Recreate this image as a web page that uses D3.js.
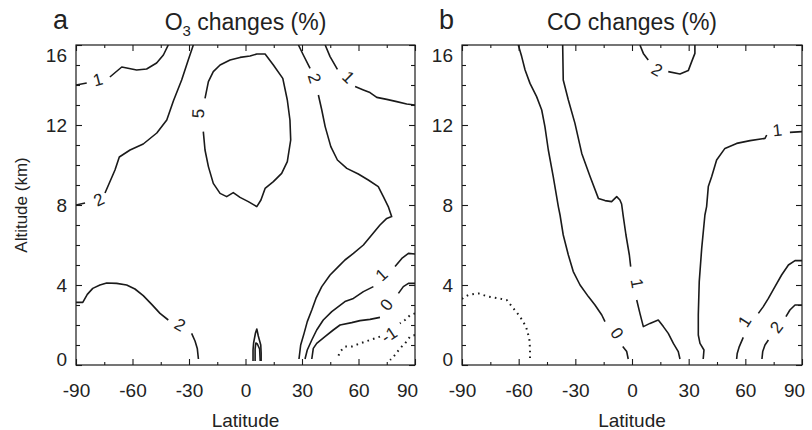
<!DOCTYPE html>
<html><head><meta charset="utf-8">
<script src="https://cdn.jsdelivr.net/npm/d3@7"></script>
<style>body{margin:0;background:#fff}svg{display:block}</style>
</head><body>
<script>
// ---- axes ----
const latTicks = [-90,-60,-30,0,30,60,90];
const latMinor = [-75,-45,-15,15,45,75];
const altTicks = [0,4,8,12,16];
const altMinor = [1,2,3,5,6,7,9,10,11,13,14,15];

// ---- panel a: O3 contours [lat, alt] (third entry = contour label at a gap) ----
const o3_1_nw = [[-90,14.0],[-84.3,14.1],[-78.3,14.25,"1"],[-72,14.4],[-65.7,14.9],[-57.8,14.75],[-52.5,14.8],[-47.2,15.1],[-43.6,15.5],[-41,16]];
const o3_2_nw = [[-90,8.0],[-85.2,8.1],[-77.8,8.25,"2"],[-74.6,8.6],[-69.3,9.75],[-67.0,10.4],[-61.3,10.75],[-54.3,11.05],[-47.1,11.6],[-41.8,12.25],[-38.3,13.2],[-33.9,14.25],[-30.4,15.25],[-27.7,16]];
const o3_5 = [[-21.5,13.33],[-19.7,14.17],[-17.1,14.67],[-13.5,15.0],[-8.2,15.25],[-2.9,15.38],[2.4,15.45],[6.0,15.55],[10.4,15.55],[14.8,15.0],[19.8,14.33],[22.2,13.25],[23.6,12.25],[24.0,11.25],[22.2,10.17],[19.2,9.58],[14.8,9.17],[10.4,8.83],[8.2,8.25],[6.0,7.92],[1.5,8.17],[-2.9,8.38],[-6.5,8.62],[-10,8.42],[-13.5,8.58],[-17.1,9.08],[-19.7,9.92],[-21.5,10.75],[-22.4,11.67],[-25.0,12.58,"5"],[-21.5,13.33]];
const o3_2_ne = [[28.1,16],[30.7,15.5],[34.3,14.83],[36.4,14.33,"2"],[38.7,13.5],[40.5,12.75],[42.3,11.92],[45.3,10.92],[48.8,10.25],[53.8,9.83],[59.9,9.55],[65.2,9.25],[70.5,8.92],[73.2,8.42],[75.8,7.92],[77.6,7.42],[75.0,7.33],[71.4,7.0],[67.0,6.5],[62.6,6.0],[57.3,5.58],[52.8,5.25],[49.3,4.92],[44.9,4.5],[40.5,3.92],[37.4,3.33],[35.2,2.75],[32.8,2.17],[31.1,1.58],[29.3,1.0],[28.4,0.3]];
const o3_1_ne = [[42.3,16],[44.9,15.42],[48.8,14.78],[54.6,14.38,"1"],[58.2,13.92],[62.6,13.75],[66.1,13.62],[69.7,13.38],[75,13.28],[80.3,13.17],[85.6,13.05],[90,13.0]];
const o3_2_sw = [[-90,3.13],[-86.4,3.13],[-84,3.53],[-81.1,3.83],[-77.3,4.0],[-73.7,4.1],[-68.4,4.08],[-63.1,4.0],[-58.7,3.8],[-54.3,3.47],[-49.8,3.03],[-45.4,2.58],[-41.0,2.25],[-34.8,2.0,"2"],[-28.6,1.58],[-26.8,1.2],[-25.6,0.83],[-25.0,0.3]];
const o3_spikeOuter = [[4.0,0.2],[4.0,0.75],[4.3,1.1],[5.3,1.6],[6.0,1.8],[6.8,1.45],[8.1,1.0],[8.3,0.6],[8.3,0.2]];
const o3_spikeInner = [[5.1,0.2],[5.1,0.8],[5.5,1.1],[6.3,1.05],[7.5,0.8],[7.8,0.2]];
const o3_1_se = [[90,5.55],[86.5,5.58],[83,5.33],[79.4,4.92],[72.3,4.5,"1"],[67.9,3.92],[62.6,3.67],[57.3,3.33],[52.8,3.17],[49.3,2.92],[45.8,2.67],[41.3,2.25],[37.8,1.75],[35.2,1.25],[32.8,0.75],[31.6,0.3]];
const o3_0_se = [[90,4.08],[86.5,4.08],[83.8,3.92],[81.2,3.58],[75,3.0,"0"],[71.4,2.38],[66.1,2.28],[60.8,2.22],[56.4,2.12],[50.2,2.0],[46.6,1.75],[42.2,1.42],[37.8,1.08],[36,0.83],[35.2,0.3]];
const o3_m1_a = [[90,2.58],[87.5,2.5],[84.7,2.25],[82,2.08],[76.3,1.5,"-1"],[71.4,1.42],[66.1,1.25],[60.8,1.08],[56.4,0.92],[52.8,0.92],[50.2,0.67],[49.3,0.45]];
const o3_m1_b = [[90,1.5],[87.4,1.42],[84.7,1.08],[82,0.83],[79.4,0.5],[76.8,0.25]];

// ---- panel b: CO contours ----
const co_0 = [[-60.2,16],[-58.4,15.42],[-56.6,14.75],[-54,14.08],[-50.5,13.42],[-47.8,12.75],[-46.1,11.92],[-44.3,10.75],[-41.7,9.42],[-39,7.92],[-38.1,7.5],[-36.4,6.5],[-33.7,5.5],[-31.1,4.67],[-27.5,4.0],[-23.1,3.42],[-19.6,3.0],[-16,2.5],[-14.3,2.17],[-8.1,1.58,"0"],[-4.9,0.92],[-2.8,0.67],[-2.0,0.3]];
const co_1_mid = [[-36.7,16],[-36.4,14.25],[-33.7,13.25],[-30.2,12.08],[-26.6,10.58],[-22.2,9.42],[-17.8,8.33],[-14.3,8.22],[-10.8,8.17],[-8.1,8.42],[-6.4,8.25],[-5.5,8.05],[-4.6,7.42],[-3.2,6.5],[-1.4,5.5],[-0.7,4.92],[2.5,4.08,"1"],[2.5,3.25],[4.2,2.58],[6.0,1.92],[9.5,2.08],[13.9,2.25],[16.6,1.92],[19.2,1.58],[21.9,1.08],[24.5,0.67],[25.4,0.3]];
const co_1_east = [[37.7,0.3],[38.1,0.75],[36,1.08],[35.1,1.5],[35.1,2.5],[35.6,4.17],[36.9,5.83],[38.6,7.5],[39.5,7.92],[40.4,8.92],[42.2,9.42],[44.8,10.25],[49.2,10.83],[55.4,11.08],[62.5,11.22],[70.4,11.33],[71.3,11.5],[77.0,11.72,"1"],[83.6,11.63],[90,11.67]];
const co_2_top = [[4.2,16],[6.0,15.58],[8.6,15.25],[13.1,14.75,"2"],[19.2,14.67],[25.4,14.55],[29.8,14.72],[31.6,15.17],[33.3,15.58],[33.3,16]];
const co_1_se = [[90,5.22],[86.3,5.22],[82.8,5.0],[79.2,4.5],[75.7,3.92],[72.2,3.33],[69.5,2.92],[66.9,2.58],[59.8,2.17,"1"],[58.9,1.38],[56.8,0.92],[55.7,0.58],[55.4,0.3]];
const co_2_se = [[90,3.0],[86.3,3.0],[83.6,2.75],[81.5,2.42],[76.6,1.88,"2"],[72.2,1.25],[70.4,1.0],[69.2,0.67],[68.8,0.3]];
const co_m1 = [[-90,3.3],[-89.3,3.37],[-86.7,3.5],[-81.4,3.58],[-76.1,3.42],[-70.8,3.33],[-66.3,3.25],[-62.8,2.83],[-59.3,2.42],[-56.1,1.92],[-54.4,1.33],[-54,0.83],[-54,0.25]];

const o3Solid = [o3_1_nw,o3_2_nw,o3_5,o3_2_ne,o3_1_ne,o3_2_sw,o3_spikeOuter,o3_spikeInner,o3_1_se,o3_0_se];
const o3Dotted = [o3_m1_a,o3_m1_b];
const coSolid = [co_0,co_1_mid,co_1_east,co_2_top,co_1_se,co_2_se];
const coDotted = [co_m1];

// ---- drawing ----
const W = 812, H = 430;
const FONT = "'Liberation Sans', Arial, Helvetica, sans-serif";
const INK = "#1a1a1a";
const svg = d3.select("body").append("svg").attr("width",W).attr("height",H);
const y = d3.scaleLinear().domain([0,16]).range([365,45]);

const panels = [
  {id:"a", letter:"a", titleMain:"O", titleSub:"3", titleRest:" changes (%)", x:d3.scaleLinear().domain([-90,90]).range([76,415]), solid:o3Solid, dotted:o3Dotted, yLabel:true},
  {id:"b", letter:"b", titleMain:"CO", titleSub:"", titleRest:" changes (%)", x:d3.scaleLinear().domain([-90,90]).range([462,802]), solid:coSolid, dotted:coDotted, yLabel:false}
];

function splitContour(pts){
  const segs=[[]], labels=[];
  pts.forEach((p,i)=>{
    if(p.length===3){ labels.push({p, prev:pts[i-1], next:pts[i+1]}); segs.push([]); }
    else segs[segs.length-1].push(p);
  });
  return {segs:segs.filter(s=>s.length>1), labels};
}

function styleAxis(g){
  g.select(".domain").remove();
  g.attr("font-family",FONT).attr("font-size",19).style("color",INK);
  g.selectAll("line").attr("stroke-width",1.1);
  g.selectAll("text").attr("fill","#222");
}

panels.forEach(P=>{
  const x = P.x;
  const [x0,x1] = x.range();
  const g = svg.append("g");

  // ticks: bottom
  g.append("g").attr("transform","translate(0,365)")
    .call(d3.axisBottom(x).tickValues(latMinor).tickSizeInner(-3).tickSizeOuter(0).tickFormat("")).call(styleAxis);
  const bx = g.append("g").attr("transform","translate(0,365)")
    .call(d3.axisBottom(x).tickValues(latTicks).tickSizeInner(-6).tickSizeOuter(0).tickPadding(19).tickFormat(d=>String(d))).call(styleAxis);
  bx.selectAll("text").filter(d=>d===90).attr("x",-8);
  // top
  g.append("g").attr("transform","translate(0,45)")
    .call(d3.axisTop(x).tickValues(latMinor).tickSizeInner(-3).tickSizeOuter(0).tickFormat("")).call(styleAxis);
  g.append("g").attr("transform","translate(0,45)")
    .call(d3.axisTop(x).tickValues(latTicks).tickSizeInner(-6).tickSizeOuter(0).tickFormat("")).call(styleAxis);
  // left
  g.append("g").attr("transform",`translate(${x0},0)`)
    .call(d3.axisLeft(y).tickValues(altMinor).tickSizeInner(-4).tickSizeOuter(0).tickFormat("")).call(styleAxis);
  const ly = g.append("g").attr("transform",`translate(${x0},0)`)
    .call(d3.axisLeft(y).tickValues(altTicks).tickSizeInner(-6).tickSizeOuter(0).tickPadding(9).tickFormat(d=>String(d))).call(styleAxis);
  ly.selectAll("text").filter(d=>d===16).attr("y",10);
  ly.selectAll("text").filter(d=>d===0).attr("y",-6);
  // right
  g.append("g").attr("transform",`translate(${x1},0)`)
    .call(d3.axisRight(y).tickValues(altMinor).tickSizeInner(-4).tickSizeOuter(0).tickFormat("")).call(styleAxis);
  g.append("g").attr("transform",`translate(${x1},0)`)
    .call(d3.axisRight(y).tickValues(altTicks).tickSizeInner(-6).tickSizeOuter(0).tickFormat("")).call(styleAxis);

  // frame
  g.append("rect").attr("x",x0).attr("y",45).attr("width",x1-x0).attr("height",320)
    .attr("fill","none").attr("stroke",INK).attr("stroke-width",1.2);

  // clip
  svg.append("clipPath").attr("id","clip-"+P.id).append("rect")
    .attr("x",x0).attr("y",45).attr("width",x1-x0).attr("height",320);
  const cg = g.append("g").attr("clip-path",`url(#clip-${P.id})`);
  const line = d3.line().x(d=>x(d[0])).y(d=>y(d[1]));

  const drawSet = (set, dotted)=>{
    set.forEach(pts=>{
      const {segs, labels} = splitContour(pts);
      segs.forEach(s=>{
        const path = cg.append("path").attr("d",line(s)).attr("fill","none")
          .attr("stroke",INK).attr("stroke-linejoin","round");
        if(dotted) path.attr("stroke-width",2).attr("stroke-dasharray","1.6,4.2");
        else path.attr("stroke-width",1.6);
      });
      labels.forEach(L=>{
        const px = x(L.p[0]), py = y(L.p[1]);
        let a = Math.atan2(y(L.next[1])-y(L.prev[1]), x(L.next[0])-x(L.prev[0]))*180/Math.PI;
        if(a>90) a-=180; if(a<=-90) a+=180;
        g.append("text").attr("transform",`translate(${px},${py}) rotate(${a})`)
          .attr("text-anchor","middle").attr("dominant-baseline","central")
          .attr("font-family",FONT).attr("font-size",17).attr("fill","#222").text(L.p[2]);
      });
    });
  };
  drawSet(P.solid,false);
  drawSet(P.dotted,true);

  // title & letter
  const cx = (x0+x1)/2;
  const t = g.append("text").attr("x",cx).attr("y",30).attr("text-anchor","middle")
    .attr("font-family",FONT).attr("font-size",23).attr("fill","#222");
  t.append("tspan").text(P.titleMain);
  if(P.titleSub){
    t.append("tspan").attr("font-size",15).attr("dy",6).text(P.titleSub);
    t.append("tspan").attr("dy",-6).text(P.titleRest);
  } else t.append("tspan").text(P.titleRest);
  g.append("text").attr("x",x0-23).attr("y",29).attr("font-family",FONT).attr("font-size",27).attr("fill","#222").text(P.letter);

  // x axis label
  g.append("text").attr("x",cx).attr("y",427).attr("text-anchor","middle")
    .attr("font-family",FONT).attr("font-size",19).attr("fill","#222").text("Latitude");
  if(P.yLabel){
    g.append("text").attr("transform",`translate(27,205) rotate(-90)`).attr("text-anchor","middle")
      .attr("font-family",FONT).attr("font-size",17).attr("fill","#222").text("Altitude (km)");
  }
});
</script>
</body></html>
